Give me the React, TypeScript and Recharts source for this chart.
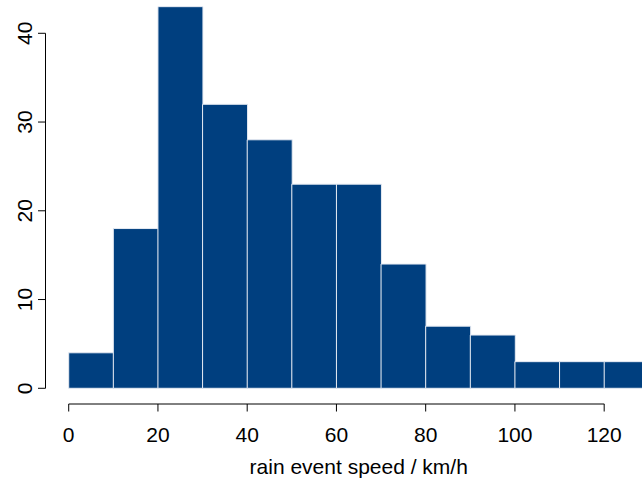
import { BarChart, Bar, XAxis, YAxis, Label } from 'recharts';

// histogram bins (10 km/h wide), midpoints and counts
const binMids = [5, 15, 25, 35, 45, 55, 65, 75, 85, 95, 105, 115, 125];
const counts = [4, 18, 43, 32, 28, 23, 23, 14, 7, 6, 3, 3, 3];
const xTicks = [0, 20, 40, 60, 80, 100, 120];
const yTicks = [0, 10, 20, 30, 40];
const xTitle = 'rain event speed / km/h';

const data = binMids.map((mid, i) => ({ mid, count: counts[i] }));

const FONT = '"Liberation Sans", Arial, Helvetica, sans-serif';
const FS = 21;

function XTick({ x, y, payload }: any) {
  return (
    <text x={x} y={y} dy={30} textAnchor="middle" fontFamily={FONT} fontSize={FS} fill="#000">
      {payload.value}
    </text>
  );
}

function YTick({ x, y, payload }: any) {
  const bx = x - 6;
  return (
    <text
      x={bx}
      y={y}
      textAnchor="middle"
      transform={`rotate(-90 ${bx} ${y})`}
      fontFamily={FONT}
      fontSize={FS}
      fill="#000"
    >
      {payload.value}
    </text>
  );
}

function XTitle({ viewBox }: any) {
  const cx = viewBox.x + viewBox.width / 2;
  const by = viewBox.y + viewBox.height - 7.5;
  return (
    <text x={cx} y={by} textAnchor="middle" fontFamily={FONT} fontSize={FS} fill="#000">
      {xTitle}
    </text>
  );
}

export default function App() {
  return (
    <div style={{ position: 'absolute', left: 0, top: 0, width: 642, height: 481, overflow: 'hidden', background: '#fff' }}>
      <BarChart
        width={672}
        height={481}
        data={data}
        barCategoryGap={0}
        barGap={0}
        margin={{ top: 0, right: 0, bottom: 0, left: 5.5 }}
      >
        <XAxis
          dataKey="mid"
          type="number"
          domain={[-5.2, 135.2]}
          ticks={xTicks}
          allowDataOverflow
          height={77}
          tickSize={7.5}
          tickMargin={0}
          tick={<XTick />}
          axisLine={{ stroke: '#000', strokeWidth: 1, strokeDasharray: '0 23.2 535.6 1000' }}
          tickLine={{ stroke: '#000', strokeWidth: 1 }}
        >
          <Label content={<XTitle />} />
        </XAxis>
        <YAxis
          type="number"
          domain={[-1.77, 43.75]}
          ticks={yTicks}
          allowDataOverflow
          width={40}
          tickSize={7.5}
          tickMargin={0}
          tick={<YTick />}
          axisLine={{ stroke: '#000', strokeWidth: 1, strokeDasharray: '0 33.3 355 1000' }}
          tickLine={{ stroke: '#000', strokeWidth: 1 }}
        />
        <Bar dataKey="count" fill="#003f7f" stroke="#e6ebf3" strokeWidth={1} isAnimationActive={false} />
      </BarChart>
    </div>
  );
}
